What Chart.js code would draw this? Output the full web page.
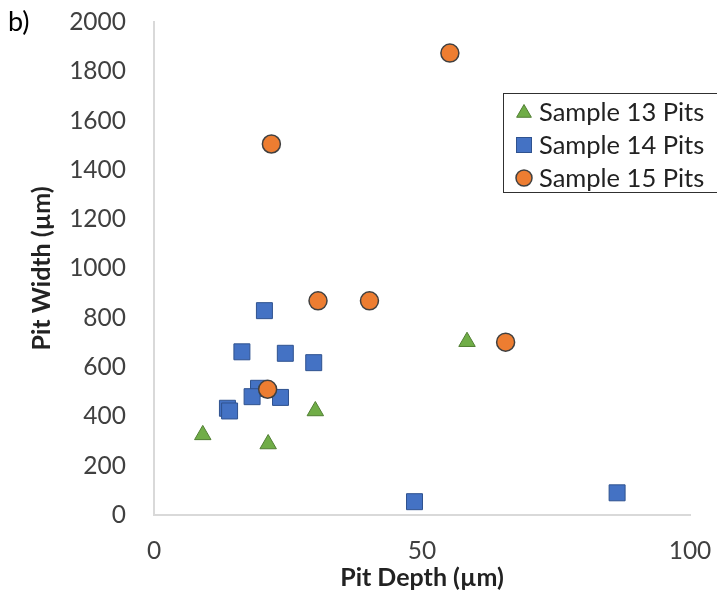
<!DOCTYPE html>
<html>
<head>
<meta charset="utf-8">
<script src="https://cdn.jsdelivr.net/npm/chart.js@4.4.1/dist/chart.umd.min.js"></script>
<style>
  body { margin: 0; background: #fff; }
</style>
</head>
<body>
<canvas id="pitChart" width="717" height="595"></canvas>
<script>
// values
var depth13 = [9.1, 21.3, 30.1, 58.4];
var width13 = [325, 288, 422, 703];

var depth14 = [20.6, 16.4, 24.5, 29.8, 19.5, 18.3, 23.6, 13.7, 14.1, 48.6, 86.4];
var width14 = [829, 662, 656, 618, 514, 480, 477, 433, 422, 54, 90];

var depth15 = [30.6, 40.2, 65.6, 55.2, 21.9, 21.2];
var width15 = [869, 869, 701, 1874, 1505, 510];

var seriesNames = ['Sample 13 Pits', 'Sample 14 Pits', 'Sample 15 Pits'];
var xTicks = [0, 50, 100];

var FONT = 'Lato, "Open Sans", sans-serif';

function toPoints(xs, ys) {
  var pts = [];
  for (var i in xs) {
    pts.push({ x: xs[i], y: ys[i] });
  }
  return pts;
}

function tri(ctx, x, y, r) {
  ctx.beginPath();
  ctx.moveTo(x, y - r);
  ctx.lineTo(x + r * 0.866, y + r * 0.5);
  ctx.lineTo(x - r * 0.866, y + r * 0.5);
  ctx.closePath();
}

// legend box + panel letter drawn by hand so it can sit where Excel put it
var boxLegend = {
  id: 'boxLegend',
  afterDraw: function(chart) {
    var ctx = chart.ctx;
    ctx.save();
    ctx.fillStyle = '#000';
    ctx.font = '27px ' + FONT;
    ctx.textBaseline = 'middle';
    ctx.textAlign = 'left';
    ctx.fillText('b)', 8, 22);

    ctx.fillStyle = '#fff';
    ctx.fillRect(503, 93, 230, 99);
    ctx.strokeStyle = '#303030';
    ctx.lineWidth = 1;
    ctx.strokeRect(503.5, 93.5, 230, 99);

    var rows = [112, 145, 178];
    var mx = 524;

    ctx.lineWidth = 1;
    ctx.fillStyle = '#70ad47';
    ctx.strokeStyle = '#507e32';
    tri(ctx, mx, rows[0] + 1, 8.5);
    ctx.fill(); ctx.stroke();

    ctx.fillStyle = '#4472c4';
    ctx.strokeStyle = '#2f528f';
    ctx.fillRect(mx - 7.5, rows[1] - 7.5, 15, 15);
    ctx.strokeRect(mx - 7.5, rows[1] - 7.5, 15, 15);

    ctx.fillStyle = '#ed7d31';
    ctx.strokeStyle = '#404040';
    ctx.lineWidth = 1.5;
    ctx.beginPath();
    ctx.arc(mx, rows[2], 8, 0, Math.PI * 2);
    ctx.fill(); ctx.stroke();

    ctx.fillStyle = '#222';
    ctx.font = '25.5px ' + FONT;
    for (var i = 0; i < rows.length; i++) {
      ctx.fillText(seriesNames[i], 539, rows[i] + 1);
    }
    ctx.restore();
  }
};

// invisible tick marks give the label gap without Chart.js padding the chart area
var hiddenTicks = {
  display: true,
  drawOnChartArea: false,
  drawTicks: true,
  tickColor: 'rgba(0,0,0,0)'
};

var ctx = document.getElementById('pitChart');

var pitChart = new Chart(ctx, {
  type: 'scatter',
  data: {
    datasets: [
      {
        label: seriesNames[0],
        data: toPoints(depth13, width13),
        pointStyle: 'triangle',
        pointRadius: 9.5,
        backgroundColor: '#70ad47',
        borderColor: '#507e32',
        borderWidth: 1,
        order: 3
      },
      {
        label: seriesNames[1],
        data: toPoints(depth14, width14),
        pointStyle: 'rect',
        pointRadius: 11.3,
        backgroundColor: '#4472c4',
        borderColor: '#2f528f',
        borderWidth: 1,
        order: 2
      },
      {
        label: seriesNames[2],
        data: toPoints(depth15, width15),
        pointStyle: 'circle',
        pointRadius: 9,
        backgroundColor: '#ed7d31',
        borderColor: '#404040',
        borderWidth: 1.5,
        order: 1
      }
    ]
  },
  options: {
    responsive: false,
    animation: false,
    events: [],
    layout: { autoPadding: false, padding: { top: 22, right: 27, left: 0, bottom: 0 } },
    plugins: {
      legend: { display: false },
      tooltip: { enabled: false }
    },
    scales: {
      x: {
        type: 'linear',
        min: 0,
        max: 100,
        afterBuildTicks: function(axis) {
          axis.ticks = xTicks.map(function(v) { return { value: v }; });
        },
        afterFit: function(axis) { axis.height = 80; },
        grid: Object.assign({ tickLength: 19 }, hiddenTicks),
        border: { display: true, color: '#d9d9d9', width: 2 },
        ticks: {
          padding: 2,
          color: '#404040',
          font: { family: FONT, size: 24.5 },
          maxRotation: 0,
          callback: function(v) { return String(v); }
        },
        title: {
          display: true,
          text: 'Pit Depth (µm)',
          color: '#222',
          font: { family: FONT, size: 25, weight: 'bold' },
          padding: { top: 0, bottom: 2 }
        }
      },
      y: {
        type: 'linear',
        min: 0,
        max: 2000,
        afterFit: function(axis) { axis.width = 154; },
        grid: Object.assign({ tickLength: 26 }, hiddenTicks),
        border: { display: true, color: '#d9d9d9', width: 2 },
        ticks: {
          stepSize: 200,
          padding: 2,
          color: '#404040',
          font: { family: FONT, size: 24.5 },
          callback: function(v) { return String(v); }
        },
        title: {
          display: true,
          text: 'Pit Width (µm)',
          color: '#222',
          font: { family: FONT, size: 25, weight: 'bold' },
          padding: { top: 27, bottom: 0 }
        }
      }
    }
  },
  plugins: [boxLegend]
});
</script>
</body>
</html>
